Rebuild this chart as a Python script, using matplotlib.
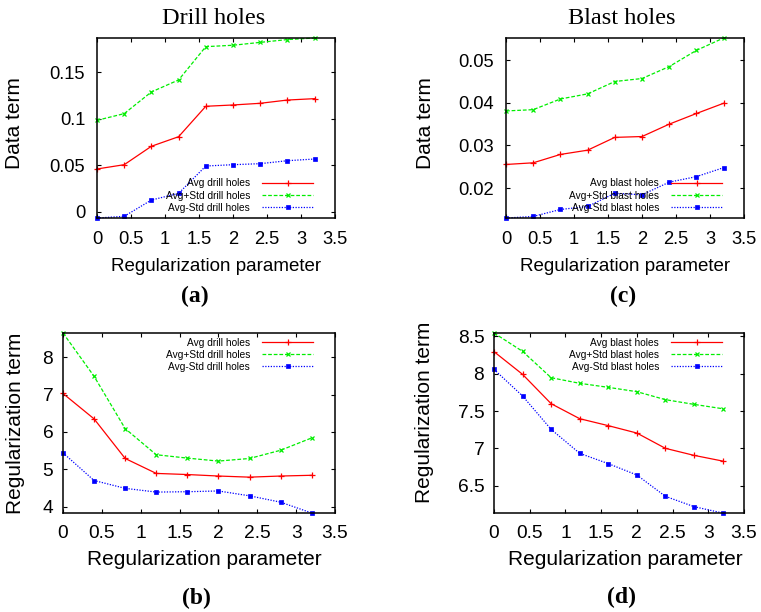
import numpy as np
import matplotlib.pyplot as plt
from matplotlib.ticker import FormatStrFormatter, MultipleLocator

# regularization parameter values
reg = [0, 0.4, 0.8, 1.2, 1.6, 2.0, 2.4, 2.8, 3.2]

# (a) data term, drill holes
drill_data_avg = [0.0459, 0.0505, 0.0703, 0.0806, 0.1133, 0.1147, 0.1165, 0.1200, 0.1215]
drill_data_hi = [0.0982, 0.1054, 0.1287, 0.1416, 0.1774, 0.1789, 0.1820, 0.1850, 0.1867]
drill_data_lo = [-0.0068, -0.0050, 0.0125, 0.0197, 0.0491, 0.0505, 0.0516, 0.0548, 0.0566]

# (c) data term, blast holes
blast_data_avg = [0.02555, 0.02594, 0.0279, 0.0289, 0.0319, 0.0321, 0.0350, 0.0375, 0.0399]
blast_data_hi = [0.0381, 0.0384, 0.0409, 0.0421, 0.0450, 0.0457, 0.0485, 0.0523, 0.0552]
blast_data_lo = [0.0130, 0.01336, 0.0150, 0.0157, 0.0188, 0.01844, 0.0214, 0.0227, 0.0248]

# (b) regularization term, drill holes
drill_reg_avg = [7.03, 6.35, 5.29, 4.89, 4.86, 4.82, 4.79, 4.82, 4.84]
drill_reg_hi = [8.65, 7.49, 6.09, 5.39, 5.30, 5.22, 5.29, 5.51, 5.84]
drill_reg_lo = [5.44, 4.70, 4.49, 4.39, 4.40, 4.42, 4.29, 4.12, 3.83]

# (d) regularization term, blast holes
blast_reg_avg = [8.295, 7.991, 7.598, 7.397, 7.304, 7.205, 7.0, 6.906, 6.830]
blast_reg_hi = [8.545, 8.299, 7.946, 7.871, 7.817, 7.759, 7.652, 7.589, 7.531]
blast_reg_lo = [8.058, 7.701, 7.254, 6.933, 6.795, 6.643, 6.357, 6.219, 6.134]

W, H = 761, 612
fig = plt.figure(figsize=(W / 100, H / 100), dpi=100)
plt.rcParams['font.family'] = ['Liberation Sans', 'DejaVu Sans']

def px_axes(left, right, top, bottom):
    return fig.add_axes([left / W, 1 - bottom / H, (right - left) / W, (bottom - top) / H])

styles = [
    dict(color='#ff0000', ls='-', marker='+', ms=4.5, mew=0.9),
    dict(color='#00ee00', ls=(0, (3, 1.5)), marker='x', ms=3.5, mew=0.9),
    dict(color='#0000ff', ls=(0, (1, 1.2)), marker='s', ms=2.5, mew=0.5),
]

# px box, series, kind, ylabel, ytick step, legend, xlabel coords, ylabel coords, sizes
panels = [
    ((97, 335, 38, 218), (drill_data_avg, drill_data_hi, drill_data_lo), 'drill',
     'Data term', 0.05, ('lower right', (0.9076, 0.028)), (0.5, -0.272), (-0.345, 0.53),
     (13.2, 13.5, 8.5)),
    ((506, 744, 38, 218), (blast_data_avg, blast_data_hi, blast_data_lo), 'blast',
     'Data term', 0.01, ('lower right', (0.9076, 0.028)), (0.5, -0.272), (-0.340, 0.53),
     (13.2, 13.5, 8.5)),
    ((63, 335, 333, 513), (drill_reg_avg, drill_reg_hi, drill_reg_lo), 'drill',
     'Regularization term', 1, ('upper right', (0.919, 0.975)), (0.52, -0.261), (-0.175, 0.5),
     (13.8, 15, 7)),
    ((494, 744, 333, 513), (blast_reg_avg, blast_reg_hi, blast_reg_lo), 'blast',
     'Regularization term', 0.5, ('upper right', (0.912, 0.975)), (0.524, -0.261), (-0.276, 0.558),
     (13.8, 15, 7)),
]

for box, series, kind, ylab, ystep, (loc, anchor), xlc, ylc, (tsize, xsize, ypad) in panels:
    ax = px_axes(*box)
    labels = ['Avg %s holes' % kind, 'Avg+Std %s holes' % kind, 'Avg-Std %s holes' % kind]
    for vals, st, lab in zip(series, styles, labels):
        ax.plot(reg, vals, lw=0.9, label=lab, clip_on=False, **st)
    allv = np.concatenate(series)
    ax.set_xlim(0, 3.5)
    ax.set_ylim(allv.min(), allv.max())
    ax.xaxis.set_major_locator(MultipleLocator(0.5))
    ax.yaxis.set_major_locator(MultipleLocator(ystep))
    ax.xaxis.set_major_formatter(FormatStrFormatter('%g'))
    ax.yaxis.set_major_formatter(FormatStrFormatter('%g'))
    ax.tick_params(direction='in', length=3, width=0.8, top=True, right=True, labelsize=tsize)
    ax.tick_params(axis='x', pad=9)
    ax.tick_params(axis='y', pad=ypad)
    for s in ax.spines.values():
        s.set_linewidth(1.1)
    ax.set_xlabel('Regularization parameter', fontsize=xsize, va='center')
    ax.xaxis.set_label_coords(*xlc)
    ax.set_ylabel(ylab, fontsize=15, va='center')
    ax.yaxis.set_label_coords(*ylc)
    ax.legend(loc=loc, bbox_to_anchor=anchor, frameon=False, fontsize=7.3, markerfirst=False,
              handlelength=5, handletextpad=1.2, labelspacing=0.22, borderpad=0, borderaxespad=0)

fig.text(214 / W, 1 - 18 / H, 'Drill holes', family='Liberation Serif', fontsize=17.5,
         ha='center', va='center')
fig.text(622 / W, 1 - 18 / H, 'Blast holes', family='Liberation Serif', fontsize=17.5,
         ha='center', va='center')
for lab, x, y in [('(a)', 195, 296), ('(c)', 623, 296), ('(b)', 196, 598), ('(d)', 622, 597)]:
    fig.text(x / W, 1 - y / H, lab, family='Liberation Serif', fontweight='bold', fontsize=17,
             ha='center', va='center')

plt.savefig('out.png', dpi=100)
